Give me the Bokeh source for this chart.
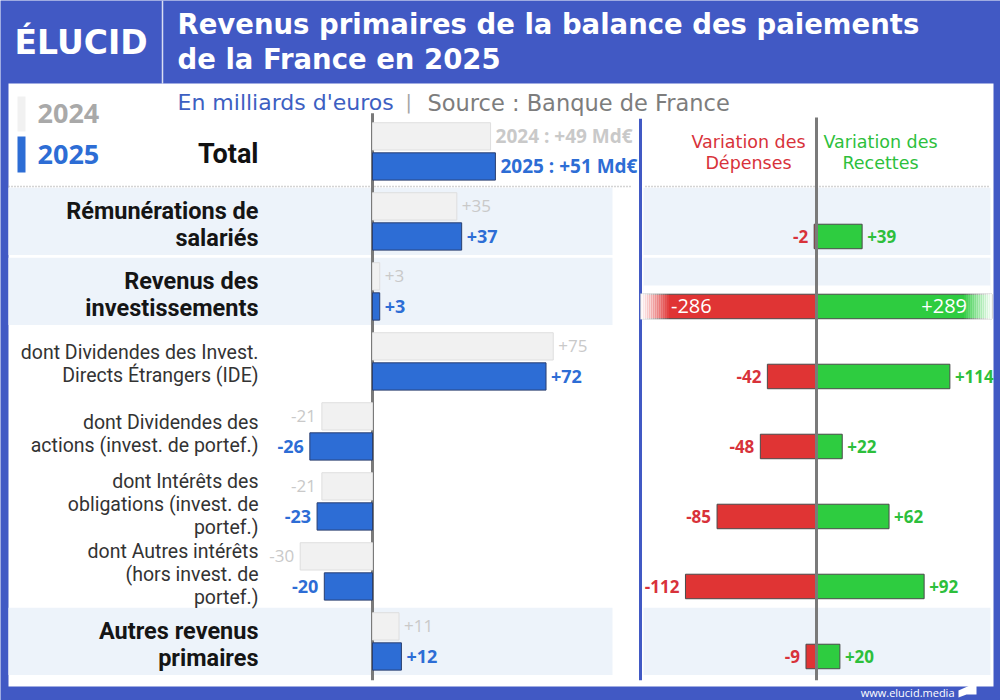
from bokeh.plotting import figure
from bokeh.models import Range1d
from bokeh.core.properties import value
from bokeh.embed import file_html
from bokeh.resources import INLINE

# ---------------- data ----------------
categories = [
    "Total",
    "Rémunérations de\nsalariés",
    "Revenus des\ninvestissements",
    "dont Dividendes des Invest.\nDirects Étrangers (IDE)",
    "dont Dividendes des\nactions (invest. de portef.)",
    "dont Intérêts des\nobligations (invest. de\nportef.)",
    "dont Autres intérêts\n(hors invest. de\nportef.)",
    "Autres revenus\nprimaires",
]
is_main = [True, True, True, False, False, False, False, True]
solde_2024 = [49, 35, 3, 75, -21, -21, -30, 11]
solde_2025 = [51, 37, 3, 72, -26, -23, -20, 12]
var_depenses = [None, -2, -286, -42, -48, -85, -112, -9]
var_recettes = [None, 39, 289, 114, 22, 62, 92, 20]
years = ["2024", "2025"]
panel_titles = ["Variation des\nDépenses", "Variation des\nRecettes"]

# ---------------- styles ----------------
FRAME = "#4159c4"
BAR25 = "#2d6dd5"
BAR24 = "#f1f1f1"
LAB24 = "#c9c9c9"
RED = "#e03434"
REDT = "#d8323a"
GREEN = "#2ecc40"
GREENT = "#2dbf3c"
BAND = "#edf3fa"
AXIS = "#7a7a7a"
FONT = "Open Sans"
HFONT = "DejaVu Sans"
LFONT = "Roboto"
ROW_PX = 70.0

DISPLAY_CAP = 150  # right panel: bars longer than this are cut with a fade

p = figure(width=1000, height=700, x_range=Range1d(0, 1000), y_range=Range1d(700, 0),
           output_backend="svg", toolbar_location=None, min_border=0,
           x_axis_type=None, y_axis_type=None)
p.outline_line_color = None
p.background_fill_color = FRAME
p.border_fill_color = FRAME
p.grid.visible = False

p.extra_x_ranges = {
    "left": Range1d(-372 / 2.41, 628 / 2.41),
    "right": Range1d(-816 / 1.17, 184 / 1.17),
}
p.extra_y_ranges = {"rows": Range1d(7.629, -2.371)}

n = len(categories)
rows = list(range(n))
y25 = [float(i) for i in rows]
y24 = [i - 0.43 for i in rows]
ymid = [i - 0.215 for i in rows]


def multiline(x, y, text, spacing, **kw):
    """Draw a multi-line label line by line, centred vertically on y (rows units)."""
    lines = text.split("\n")
    m = len(lines)
    ys = [y + (j - (m - 1) / 2) * spacing / ROW_PX for j in range(m)]
    p.text(x=[x] * m, y=ys, text=lines, y_range_name="rows", **kw)


# ---------------- card & header ----------------
p.quad(left=8, right=993, top=83, bottom=686, fill_color="white", line_color=None)
p.segment(x0=162, y0=0, x1=162, y1=83, line_color="white", line_width=1.5, line_alpha=0.8)
p.text(x=[14], y=[42], text=["ÉLUCID"], text_font=value(HFONT), text_font_style="bold",
       text_font_size="33px", text_color="white", text_baseline="middle")
p.text(x=[177, 177], y=[23, 58],
       text=["Revenus primaires de la balance des paiements", "de la France en 2025"],
       text_font=value(HFONT), text_font_style="bold", text_font_size="27.5px",
       text_color="white", text_baseline="middle")
p.text(x=[177], y=[102], text=["En milliards d'euros"], text_font=value(HFONT),
       text_font_size="22px", text_color="#3d5fc2", text_baseline="middle")
p.text(x=[405], y=[101], text=["|"], text_font=value(HFONT),
       text_font_size="19px", text_color="#a5a5a5", text_baseline="middle")
p.text(x=[427], y=[102], text=["Source : Banque de France"], text_font=value(HFONT),
       text_font_size="22.5px", text_color="#7d7d7d", text_baseline="middle")

# legend
p.quad(left=[17, 17], right=[25, 25], top=[96, 136], bottom=[131, 172],
       fill_color=[BAR24, BAR25], line_color=None)
p.text(x=[37, 37], y=[113, 154], text=years, text_font=value(FONT), text_font_style="bold",
       text_font_size="27px", text_color=["#a9a9a9", BAR25], text_baseline="middle")

# ---------------- row bands ----------------
band_rows = [i for i in rows if is_main[i] and i > 0]
for x0, x1 in [(8, 612), (643, 990)]:
    p.quad(left=x0, right=x1, top=[ymid[i] - 0.48 for i in band_rows],
           bottom=[ymid[i] + 0.48 for i in band_rows], fill_color=BAND, line_color=None,
           y_range_name="rows")
cut_rows = [i for i in rows if var_depenses[i] is not None and
            (abs(var_depenses[i]) > DISPLAY_CAP or abs(var_recettes[i]) > DISPLAY_CAP)]
p.quad(left=643, right=990, top=[y25[i] - 0.3 for i in cut_rows],
       bottom=[y25[i] + 0.3 for i in cut_rows], fill_color="white", line_color=None,
       y_range_name="rows")

# dotted separator under Total
p.segment(x0=[8, 645], y0=[0.286, 0.286], x1=[630, 990], y1=[0.286, 0.286],
          line_color="#a8a8a8", line_width=1.5, line_dash="1 2", y_range_name="rows")

# ---------------- axes lines ----------------
p.segment(x0=0, y0=-0.76, x1=0, y1=7.34, line_color=AXIS, line_width=3,
          x_range_name="left", y_range_name="rows")
p.segment(x0=640, y0=-0.68, x1=640, y1=7.34, line_color=FRAME, line_width=3,
          y_range_name="rows")

# ---------------- left bars ----------------
p.hbar(y=y24, left=[min(0, v) for v in solde_2024], right=[max(0, v) for v in solde_2024],
       height=0.39, fill_color=BAR24, line_color="#dedede", line_width=1,
       x_range_name="left", y_range_name="rows")
p.hbar(y=y25, left=[min(0, v) for v in solde_2025], right=[max(0, v) for v in solde_2025],
       height=0.39, fill_color=BAR25, line_color="#2a3f70", line_width=1,
       x_range_name="left", y_range_name="rows")


def lab(v, i, year):
    if i == 0:
        return f"{year} : {v:+d} Md€"
    return f"{v:+d}"


for vals, ys, col, year in [(solde_2024, y24, LAB24, "2024"), (solde_2025, y25, BAR25, "2025")]:
    bold25 = year == "2025"
    pos = [i for i in rows if vals[i] >= 0]
    neg = [i for i in rows if vals[i] < 0]
    for sel, off, align in [(pos, 5, "left"), (neg, -6, "right")]:
        styles = ["bold" if (bold25 or i == 0) else "normal" for i in sel]
        sizes = ["19px" if i == 0 else ("18px" if bold25 else "17px") for i in sel]
        for st in ("bold", "normal"):
            idx = [k for k, s in enumerate(styles) if s == st]
            if not idx:
                continue
            p.text(x=[vals[sel[k]] for k in idx], y=[ys[sel[k]] for k in idx],
                   text=[lab(vals[sel[k]], sel[k], year) for k in idx], x_offset=off,
                   text_font=value(FONT), text_font_style=st,
                   text_font_size=[sizes[k] for k in idx],
                   text_color=col, text_baseline="middle", text_align=align,
                   x_range_name="left", y_range_name="rows")

# ---------------- category labels ----------------
LABEL_SHIFT = 3 / ROW_PX
p.text(x=258, y=[ymid[0] + LABEL_SHIFT], text=[categories[0]], text_font=value(LFONT),
       text_font_style="bold", text_font_size="27px", text_color="#111111",
       text_align="right", text_baseline="middle", y_range_name="rows")
for i in rows[1:]:
    if is_main[i]:
        multiline(258, ymid[i] + LABEL_SHIFT, categories[i], 27,
                  text_font=value(LFONT), text_font_style="bold", text_font_size="23.5px",
                  text_color="#151515", text_align="right", text_baseline="middle")
    else:
        multiline(258, ymid[i] + LABEL_SHIFT, categories[i], 23,
                  text_font=value(LFONT), text_font_size="19.5px", text_color="#333333",
                  text_align="right", text_baseline="middle")

# ---------------- right panel ----------------
for xc, t, c in zip([748, 880], panel_titles, [REDT, GREENT]):
    lines = t.split("\n")
    p.text(x=[xc] * len(lines), y=[141 + 21 * j for j in range(len(lines))], text=lines,
           text_font=value(HFONT), text_font_size="17.5px", text_color=c,
           text_align="center", text_baseline="middle")

vr = [i for i in rows if var_depenses[i] is not None]
dep_disp = [max(var_depenses[i], -DISPLAY_CAP) for i in vr]
rec_disp = [min(var_recettes[i], DISPLAY_CAP) for i in vr]
yr = [y25[i] for i in vr]
p.hbar(y=yr, left=dep_disp, right=0, height=0.35, fill_color=RED, line_color="#4a4a4a",
       line_width=1, x_range_name="right", y_range_name="rows")
p.hbar(y=yr, left=0, right=rec_disp, height=0.35, fill_color=GREEN, line_color="#4a4a4a",
       line_width=1, x_range_name="right", y_range_name="rows")

# fade at the cut ends
steps = 14
fade_len = 24
for i in cut_rows:
    for k in range(steps):
        a = (k + 1) / steps
        x_in = DISPLAY_CAP - fade_len + fade_len * k / steps
        x_out = DISPLAY_CAP - fade_len + fade_len * (k + 1) / steps + 0.5
        p.hbar(y=[y25[i]], left=[-x_out], right=[-x_in], height=0.37, fill_color="white",
               fill_alpha=a * 0.95, line_color=None, x_range_name="right", y_range_name="rows")
        p.hbar(y=[y25[i]], left=[x_in], right=[x_out], height=0.37, fill_color="white",
               fill_alpha=a * 0.95, line_color=None, x_range_name="right", y_range_name="rows")

p.segment(x0=0, y0=-0.7, x1=0, y1=7.34, line_color=AXIS, line_width=3,
          x_range_name="right", y_range_name="rows")

in_rows = [k for k, i in enumerate(vr) if i not in cut_rows]
cut_k = [k for k, i in enumerate(vr) if i in cut_rows]
p.text(x=[dep_disp[k] for k in in_rows], y=[yr[k] for k in in_rows],
       text=[f"{var_depenses[vr[k]]:+d}" for k in in_rows], x_offset=-6,
       text_font=value(FONT), text_font_style="bold", text_font_size="17px", text_color=REDT,
       text_align="right", text_baseline="middle", x_range_name="right", y_range_name="rows")
p.text(x=[rec_disp[k] for k in in_rows], y=[yr[k] for k in in_rows],
       text=[f"{var_recettes[vr[k]]:+d}" for k in in_rows], x_offset=5,
       text_font=value(FONT), text_font_style="bold", text_font_size="17px", text_color=GREENT,
       text_align="left", text_baseline="middle", x_range_name="right", y_range_name="rows")
p.text(x=[dep_disp[k] for k in cut_k], y=[yr[k] for k in cut_k],
       text=[f"{var_depenses[vr[k]]:+d}" for k in cut_k], x_offset=30,
       text_font=value(FONT), text_font_size="20px", text_color="white",
       text_align="left", text_baseline="middle", x_range_name="right", y_range_name="rows")
p.text(x=[rec_disp[k] for k in cut_k], y=[yr[k] for k in cut_k],
       text=[f"{var_recettes[vr[k]]:+d}" for k in cut_k], x_offset=-25,
       text_font=value(FONT), text_font_size="20px", text_color="white",
       text_align="right", text_baseline="middle", x_range_name="right", y_range_name="rows")

# ---------------- footer ----------------
p.text(x=[954], y=[692], text=["www.elucid.media"], text_font=value(FONT),
       text_font_size="11px", text_color="white", text_align="right", text_baseline="middle")
p.patch(x=[958, 976, 976, 966, 958], y=[690, 682, 694, 694, 697], fill_color="white",
        line_color=None)

open("out.html", "w").write(file_html(p, INLINE))
